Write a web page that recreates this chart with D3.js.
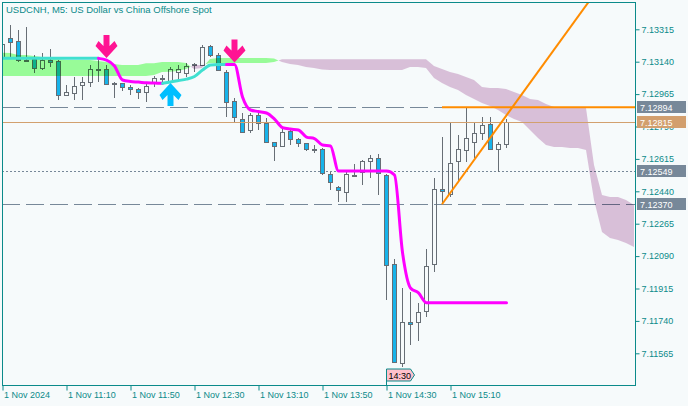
<!DOCTYPE html>
<html>
<head>
<meta charset="utf-8">
<script src="https://cdn.jsdelivr.net/npm/d3@7"></script>
<style>
  html, body { margin: 0; padding: 0; background: #f6fafb; }
  svg { display: block; }
  text { font-family: "Liberation Sans", Arial, sans-serif; }
</style>
</head>
<body>
<svg id="chart" width="688" height="406"></svg>
<script>
// ---- data (M5 bars, 10:30 .. 15:45) ----
const title = "USDCNH, M5:  US Dollar vs China Offshore Spot";

const xTickBars = [0, 8, 16, 24, 32, 40, 48, 56];
const xTickLabels = ["1 Nov 2024", "1 Nov 11:10", "1 Nov 11:50", "1 Nov 12:30",
  "1 Nov 13:10", "1 Nov 13:50", "1 Nov 14:30", "1 Nov 15:10"];

const priceTicks = [7.13315, 7.13140, 7.12965, 7.12790, 7.12615, 7.12440,
  7.12265, 7.12090, 7.11915, 7.11740, 7.11565];

const open = [7.13160, 7.13268, 7.13252, 7.13149, 7.13155, 7.13106, 7.13149, 7.13144, 7.12960, 7.12971,
  7.13014, 7.13030, 7.13100, 7.13100, 7.13025, 7.13025, 7.13003, 7.12992, 7.12976, 7.13030,
  7.13052, 7.13036, 7.13084, 7.13079, 7.13127, 7.13122, 7.13225, 7.13176, 7.13084, 7.12928,
  7.12830, 7.12771, 7.12852, 7.12809, 7.12706, 7.12685, 7.12766, 7.12722, 7.12701, 7.12668,
  7.12668, 7.12533, 7.12463, 7.12436, 7.12528, 7.12544, 7.12604, 7.12620, 7.12528, 7.12047,
  7.11512, 7.11734, 7.11734, 7.11793, 7.12047, 7.12452, 7.12425, 7.12604, 7.12663, 7.12706,
  7.12755, 7.12803, 7.12668, 7.12695];
const high = [7.13273, 7.13338, 7.13311, 7.13327, 7.13176, 7.13187, 7.13209, 7.13149, 7.13014, 7.13057,
  7.13057, 7.13122, 7.13160, 7.13122, 7.13030, 7.13025, 7.13014, 7.12998, 7.13025, 7.13063,
  7.13068, 7.13111, 7.13122, 7.13133, 7.13133, 7.13230, 7.13230, 7.13187, 7.13095, 7.12944,
  7.12863, 7.12863, 7.12868, 7.12836, 7.12706, 7.12782, 7.12776, 7.12728, 7.12701, 7.12690,
  7.12674, 7.12544, 7.12468, 7.12555, 7.12587, 7.12609, 7.12636, 7.12641, 7.12533, 7.12074,
  7.11918, 7.11896, 7.11837, 7.12128, 7.12512, 7.12733, 7.12809, 7.12744, 7.12895, 7.12814,
  7.12841, 7.12841, 7.12706, 7.12830];
const low = [7.13149, 7.13160, 7.13138, 7.13138, 7.13079, 7.13095, 7.13111, 7.12933, 7.12960, 7.12933,
  7.12933, 7.13003, 7.13030, 7.13014, 7.12944, 7.12982, 7.12960, 7.12938, 7.12922, 7.13003,
  7.13030, 7.13030, 7.13041, 7.13057, 7.13084, 7.13117, 7.13165, 7.13095, 7.12841, 7.12809,
  7.12755, 7.12755, 7.12771, 7.12701, 7.12604, 7.12685, 7.12690, 7.12679, 7.12658, 7.12647,
  7.12528, 7.12447, 7.12382, 7.12382, 7.12517, 7.12474, 7.12512, 7.12420, 7.11853, 7.11512,
  7.11491, 7.11610, 7.11631, 7.11761, 7.12004, 7.12377, 7.12409, 7.12490, 7.12598, 7.12620,
  7.12717, 7.12663, 7.12544, 7.12674];
const close = [7.13235, 7.13246, 7.13149, 7.13147, 7.13106, 7.13149, 7.13138, 7.12960, 7.12976, 7.13009,
  7.13030, 7.13100, 7.13100, 7.13019, 7.13025, 7.13003, 7.12992, 7.12976, 7.13009, 7.13052,
  7.13052, 7.13100, 7.13100, 7.13117, 7.13127, 7.13219, 7.13176, 7.13095, 7.12922, 7.12841,
  7.12760, 7.12852, 7.12809, 7.12706, 7.12685, 7.12760, 7.12722, 7.12701, 7.12668, 7.12668,
  7.12539, 7.12490, 7.12447, 7.12533, 7.12528, 7.12604, 7.12620, 7.12539, 7.12042, 7.11518,
  7.11734, 7.11723, 7.11788, 7.12036, 7.12452, 7.12441, 7.12593, 7.12668, 7.12728, 7.12755,
  7.12798, 7.12668, 7.12695, 7.12815];

// trend-following line (turquoise / magenta)
const trendLine = [7.13158, 7.13158, 7.13158, 7.13158, 7.13158, 7.13158, 7.13158, 7.13158, 7.13158, 7.13158,
  7.13158, 7.13158, 7.13158, 7.13149, 7.13117, 7.13041, 7.13033, 7.13030, 7.13026, 7.13025,
  7.13023, 7.13030, 7.13038, 7.13046, 7.13060, 7.13095, 7.13122, 7.13125, 7.13125, 7.13125,
  7.12949, 7.12879, 7.12871, 7.12863, 7.12830, 7.12784, 7.12776, 7.12771, 7.12733, 7.12725,
  7.12690, 7.12685, 7.12549, 7.12549, 7.12549, 7.12549, 7.12549, 7.12549, 7.12549, 7.12528,
  7.12110, 7.11918, 7.11891, 7.11838, 7.11838, 7.11838, 7.11838, 7.11838, 7.11838, 7.11838,
  7.11838, 7.11838, 7.11838, 7.11838];
const sellBars = [13, 29];
const buyBars = [21];

// Ichimoku cloud, already shifted 26 bars forward
const spanA = [7.13188, 7.13187, 7.13176, 7.13176, 7.13171, 7.13165, 7.13160, 7.13155, 7.13149, 7.13149,
  7.13149, 7.13149, 7.13144, 7.13138, 7.13127, 7.13122, 7.13122, 7.13122, 7.13131, 7.13131,
  7.13138, 7.13138, 7.13138, 7.13133, 7.13100, 7.13106, 7.13155, 7.13160, 7.13160, 7.13160,
  7.13160, 7.13160, 7.13160, 7.13160, 7.13157, 7.13138, 7.13127, 7.13122, 7.13111, 7.13106,
  7.13098, 7.13095, 7.13095, 7.13095, 7.13095, 7.13095, 7.13095, 7.13095, 7.13095, 7.13095,
  7.13095, 7.13111, 7.13111, 7.13106, 7.13052, 7.13025, 7.13003, 7.12987, 7.12960, 7.12938,
  7.12917, 7.12901, 7.12879, 7.12852, 7.12830, 7.12814, 7.12771, 7.12728, 7.12690, 7.12679,
  7.12679, 7.12674, 7.12674, 7.12663, 7.12393, 7.12220, 7.12188, 7.12177, 7.12161, 7.12139];
const spanB = [7.13063, 7.13063, 7.13063, 7.13063, 7.13063, 7.13063, 7.13063, 7.13063, 7.13063, 7.13063,
  7.13063, 7.13063, 7.13063, 7.13063, 7.13063, 7.13063, 7.13063, 7.13063, 7.13063, 7.13068,
  7.13084, 7.13086, 7.13090, 7.13100, 7.13122, 7.13122, 7.13133, 7.13133, 7.13133, 7.13133,
  7.13133, 7.13133, 7.13133, 7.13133, 7.13138, 7.13153, 7.13153, 7.13153, 7.13153, 7.13153,
  7.13153, 7.13153, 7.13153, 7.13153, 7.13153, 7.13153, 7.13153, 7.13153, 7.13153, 7.13153,
  7.13153, 7.13153, 7.13153, 7.13153, 7.13117, 7.13100, 7.13084, 7.13073, 7.13057, 7.13041,
  7.13003, 7.12998, 7.12998, 7.12992, 7.12976, 7.12960, 7.12938, 7.12933, 7.12911, 7.12895,
  7.12895, 7.12895, 7.12890, 7.12890, 7.12582, 7.12420, 7.12409, 7.12409, 7.12393, 7.12366];

// horizontal levels and the drawn trend line
const dashedLevels = [7.12894, 7.12370];
const dottedLevels = [7.12549];
const bidPrice = 7.12815;
const highLevel = { bar: 55, price: 7.12894 };
const trendPoints = [{ bar: 55, price: 7.12370 }, { bar: 63, price: 7.12847 }];
const markerBar = 48;
const markerLabel = "14:30";

// ---- drawing ----
const teal = "#0b8a8a";
const slate = "#778899";
const px = v => Math.round(v) + 0.5;

const svg = d3.select("#chart");
svg.append("rect").attr("width", 688).attr("height", 406).attr("fill", "#f6fafb");

const plot = { left: 2, top: 2, right: 635, bottom: 385 };

const x = d3.scaleLinear().domain([0, 79]).range([2, 634]);
const y = d3.scaleLinear().domain([7.11565, 7.13315]).range([353.3, 29.3]);

svg.append("defs").append("clipPath").attr("id", "plot-clip")
  .append("rect")
  .attr("x", plot.left + 1).attr("y", plot.top + 1)
  .attr("width", plot.right - plot.left - 1).attr("height", plot.bottom - plot.top - 1);

const g = svg.append("g").attr("clip-path", "url(#plot-clip)");

// level lines
dashedLevels.forEach(p => {
  g.append("line")
    .attr("x1", plot.left).attr("x2", plot.right)
    .attr("y1", px(y(p))).attr("y2", px(y(p)))
    .attr("stroke", slate).attr("stroke-dasharray", "18,6");
});
dottedLevels.forEach(p => {
  g.append("line")
    .attr("x1", plot.left).attr("x2", plot.right)
    .attr("y1", px(y(p))).attr("y2", px(y(p)))
    .attr("stroke", slate).attr("stroke-dasharray", "2,2");
});

// candles
const wickColor = "#676e75";
const bearFill = "#17b3ea";
open.forEach((o, i) => {
  const c = close[i];
  const cx = px(x(i));
  const top = Math.round(y(Math.max(o, c)));
  const bot = Math.max(top + 1, Math.round(y(Math.min(o, c))));
  const yh = Math.round(y(high[i]));
  const yl = Math.round(y(low[i]));
  if (yh < top) g.append("line").attr("x1", cx).attr("x2", cx).attr("y1", yh).attr("y2", top).attr("stroke", wickColor);
  if (yl > bot) g.append("line").attr("x1", cx).attr("x2", cx).attr("y1", bot).attr("y2", yl).attr("stroke", wickColor);
  g.append("rect")
    .attr("x", cx - 2).attr("y", top + 0.5)
    .attr("width", 4).attr("height", bot - top - 1 < 0 ? 0 : bot - top - 1 + 1)
    .attr("fill", c < o ? bearFill : "none")
    .attr("stroke", wickColor);
});

// ichimoku cloud: split the band where the spans cross
const cloudPts = [];
spanA.forEach((a, i) => {
  const b = spanB[i];
  cloudPts.push({ i: i, a: a, b: b });
  if (i < spanA.length - 1) {
    const d0 = a - b, d1 = spanA[i + 1] - spanB[i + 1];
    if (d0 * d1 < 0) {
      const t = d0 / (d0 - d1);
      const v = a + (spanA[i + 1] - a) * t;
      cloudPts.push({ i: i + t, a: v, b: v });
    }
  }
});
const runs = [];
let cur = [cloudPts[0]];
let curSign = Math.sign(cloudPts[0].a - cloudPts[0].b);
for (let k = 1; k < cloudPts.length; k++) {
  const p = cloudPts[k];
  const s = Math.sign(p.a - p.b);
  cur.push(p);
  if (s === 0) {
    runs.push({ sign: curSign, pts: cur });
    cur = [p];
    curSign = 0;
  } else if (curSign === 0) {
    curSign = s;
  }
}
runs.push({ sign: curSign, pts: cur });

const cloudArea = d3.area()
  .x(d => x(d.i))
  .y0(d => y(d.b))
  .y1(d => y(d.a));

const cloud = g.append("g").style("mix-blend-mode", "multiply");
runs.forEach(r => {
  cloud.append("path")
    .attr("d", cloudArea(r.pts))
    .attr("fill", r.sign > 0 ? "#98fb98" : "#d8bfd8");
});

// bid line
g.append("line")
  .attr("x1", plot.left).attr("x2", plot.right)
  .attr("y1", px(y(bidPrice))).attr("y2", px(y(bidPrice)))
  .attr("stroke", "#d2a06e");

// trend-following line coloured by the last signal
const signals = sellBars.map(b => ({ bar: b, bull: false }))
  .concat(buyBars.map(b => ({ bar: b, bull: true })))
  .sort((p, q) => p.bar - q.bar);
const bullAt = trendLine.map((v, k) => {
  let bull = true;
  signals.forEach(s => { if (s.bar <= k) bull = s.bull; });
  return bull;
});
const segs = [];
for (let j = 0; j < trendLine.length - 1; j++) {
  const bull = bullAt[j + 1];
  if (segs.length && segs[segs.length - 1].bull === bull) {
    segs[segs.length - 1].idx.push(j + 1);
  } else {
    segs.push({ bull: bull, idx: [j, j + 1] });
  }
}
const trendPath = d3.line()
  .x(k => x(k) + 0.5)
  .y(k => y(trendLine[k]))
  .curve(d3.curveMonotoneX);
segs.forEach(s => {
  g.append("path")
    .attr("d", trendPath(s.idx))
    .attr("fill", "none")
    .attr("stroke", s.bull ? "#40e0d0" : "#ff00ff")
    .attr("stroke-width", 3)
    .attr("stroke-linejoin", "round")
    .attr("stroke-linecap", "round");
});

// signal arrows
const downArrow = "M-3,-23 H3 V-12 L8,-17 L11,-12 L0,0 L-11,-12 L-8,-17 L-3,-12 Z";
const upArrow = "M-3,24 H3 V13 L8,18 L11,13 L0,1 L-11,13 L-8,18 L-3,13 Z";
sellBars.forEach(b => {
  g.append("path").attr("d", downArrow)
    .attr("transform", `translate(${x(b) + 0.5},${y(trendLine[b]) - 2})`)
    .attr("fill", "#ff1493");
});
buyBars.forEach(b => {
  g.append("path").attr("d", upArrow)
    .attr("transform", `translate(${x(b) + 0.5},${y(trendLine[b])})`)
    .attr("fill", "#00bfff");
});

// orange level from the high and the trend ray
g.append("line")
  .attr("x1", x(highLevel.bar)).attr("x2", plot.right)
  .attr("y1", y(highLevel.price)).attr("y2", y(highLevel.price))
  .attr("stroke", "#ff8c00").attr("stroke-width", 2);

const slope = (trendPoints[1].price - trendPoints[0].price) / (trendPoints[1].bar - trendPoints[0].bar);
const rayEnd = 90;
g.append("line")
  .attr("x1", x(trendPoints[0].bar)).attr("y1", y(trendPoints[0].price))
  .attr("x2", x(rayEnd)).attr("y2", y(trendPoints[0].price + slope * (rayEnd - trendPoints[0].bar)))
  .attr("stroke", "#ff8c00").attr("stroke-width", 2);

// title
svg.append("text")
  .attr("x", 6).attr("y", 13)
  .attr("fill", teal)
  .style("font-size", "9.5px")
  .text(title);

// frame
svg.append("rect")
  .attr("x", plot.left + 0.5).attr("y", plot.top + 0.5)
  .attr("width", plot.right - plot.left).attr("height", plot.bottom - plot.top)
  .attr("fill", "none").attr("stroke", teal);

// price axis
const yAxis = svg.append("g")
  .attr("transform", `translate(${plot.right + 0.5},0)`)
  .call(d3.axisRight(y).tickValues(priceTicks).tickFormat(d3.format(".5f")).tickSize(4).tickPadding(2));
yAxis.select(".domain").remove();
yAxis.selectAll("line").attr("stroke", teal);
yAxis.selectAll("text").attr("fill", teal).style("font-size", "9px")
  .style("font-family", "'Liberation Sans', Arial, sans-serif");

// price boxes on the axis
const priceBoxes = [
  { price: dashedLevels[0], fill: slate },
  { price: bidPrice, fill: "#d29f6e" },
  { price: dottedLevels[0], fill: slate },
  { price: dashedLevels[1], fill: slate }
];
priceBoxes.forEach(bx => {
  const yy = Math.round(y(bx.price));
  svg.append("rect")
    .attr("x", plot.right + 2).attr("y", yy - 6)
    .attr("width", 49).attr("height", 12)
    .attr("fill", bx.fill);
  svg.append("text")
    .attr("x", plot.right + 5).attr("y", yy + 3.5)
    .attr("fill", "#ffffff")
    .style("font-size", "9px")
    .text(d3.format(".5f")(bx.price));
});

// time axis
const xAxis = svg.append("g")
  .attr("transform", `translate(0.5,${plot.bottom + 0.5})`)
  .call(d3.axisBottom(x).tickValues(xTickBars).tickFormat((d, i) => xTickLabels[i]).tickSize(5).tickPadding(1));
xAxis.select(".domain").remove();
xAxis.selectAll("line").attr("stroke", teal);
xAxis.selectAll("text").attr("fill", teal).attr("text-anchor", "start").attr("dx", 1)
  .style("font-size", "9px")
  .style("font-family", "'Liberation Sans', Arial, sans-serif");

// time marker label
const mx = px(x(markerBar));
svg.append("path")
  .attr("d", `M${mx},${plot.bottom - 16} H${mx + 24} L${mx + 28},${plot.bottom - 10} L${mx + 24},${plot.bottom - 4} H${mx} Z`)
  .attr("fill", "#ffc0cb").attr("stroke", teal);
svg.append("line")
  .attr("x1", mx).attr("x2", mx).attr("y1", plot.bottom - 4).attr("y2", plot.bottom)
  .attr("stroke", teal);
svg.append("text")
  .attr("x", mx + 2).attr("y", plot.bottom - 6)
  .attr("fill", "#000000")
  .style("font-size", "9px")
  .text(markerLabel);
</script>
</body>
</html>
